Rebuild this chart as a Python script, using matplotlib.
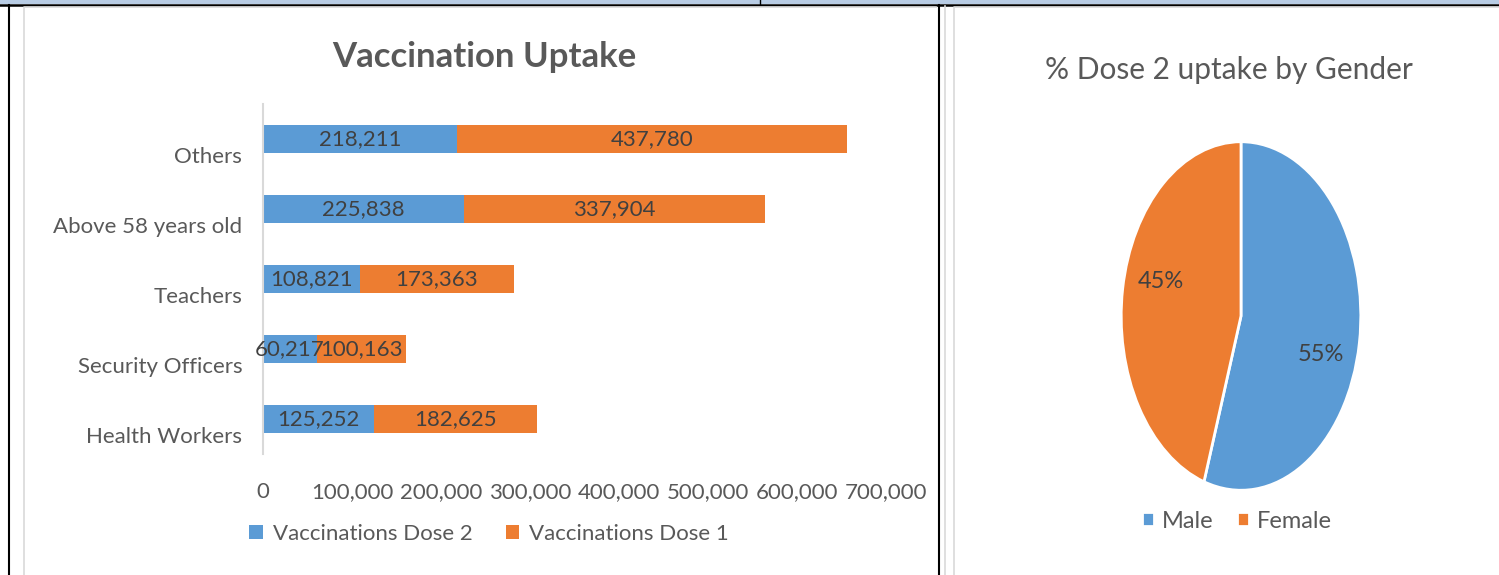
import matplotlib.pyplot as plt
from matplotlib.lines import Line2D
from matplotlib.patches import Rectangle

# data
groups = ["Health Workers", "Security Officers", "Teachers", "Above 58 years old", "Others"]
dose2 = [125252, 60217, 108821, 225838, 218211]
dose1 = [182625, 100163, 173363, 337904, 437780]
x_ticks = [0, 100000, 200000, 300000, 400000, 500000, 600000, 700000]

genders = ["Male", "Female"]
gender_pct = [55, 45]

BLUE = "#5B9BD5"
ORANGE = "#ED7D31"
GREY = "#595959"
DARK = "#404040"
FRAME = "#D9D9D9"

plt.rcParams["font.family"] = ["Lato", "DejaVu Sans"]

W, H = 1499, 575
fig = plt.figure(figsize=(W / 100, H / 100), dpi=100)


def fx(x):
    return x / W


def fy(y):
    return 1 - y / H


def box(x0, y0, x1, y1):
    # axes rect from pixel corners (top-left origin)
    return [fx(x0), fy(y1), fx(x1) - fx(x0), fy(y0) - fy(y1)]


# --- document table decoration ---
fig.add_artist(Rectangle((0, fy(4)), 1, 4 / H, transform=fig.transFigure,
                         color="#B8CCE4", lw=0))
fig.add_artist(Line2D([0, 1], [fy(5), fy(5)], color="black", lw=1.8))
fig.add_artist(Line2D([fx(760), fx(760)], [fy(0), fy(5)], color="black", lw=1))
fig.add_artist(Line2D([fx(8.5), fx(8.5)], [0, fy(5)], color="black", lw=1.5))
fig.add_artist(Line2D([fx(938.5), fx(938.5)], [0, fy(5)], color="black", lw=1.5))
fig.add_artist(Line2D([fx(945), fx(945)], [0, fy(6)], color=FRAME, lw=1.2))
# chart frames
fig.add_artist(Line2D([fx(24), fx(24), fx(936)], [0, fy(7), fy(7)], color=FRAME, lw=1.2))
fig.add_artist(Line2D([fx(954), fx(954), 1], [0, fy(7), fy(7)], color=FRAME, lw=1.2))

# --- bar chart ---
ax = fig.add_axes(box(263, 104, 886, 454))
y = list(range(len(groups)))
ax.barh(y, dose2, height=0.4, color=BLUE, label="Vaccinations Dose 2")
ax.barh(y, dose1, left=dose2, height=0.4, color=ORANGE, label="Vaccinations Dose 1")
for i in y:
    ax.text(dose2[i] / 2, i, f"{dose2[i]:,}", ha="center", va="center",
            fontsize=16, color=DARK)
    ax.text(dose2[i] + dose1[i] / 2, i, f"{dose1[i]:,}", ha="center", va="center",
            fontsize=16, color=DARK)
ax.set_xlim(0, 700000)
ax.set_ylim(-0.5, len(groups) - 0.5)
# category labels sit a little below their bars, as in the original
ax.set_yticks([i - 0.23 for i in y])
ax.set_yticklabels(groups)
ax.set_xticks(x_ticks)
ax.set_xticklabels([f"{v:,}" for v in x_ticks])
ax.tick_params(length=0, labelsize=16, labelcolor=GREY)
ax.tick_params(axis="x", pad=20)
ax.tick_params(axis="y", pad=15)
for s in ["top", "right", "bottom"]:
    ax.spines[s].set_visible(False)
ax.spines["left"].set_color(FRAME)
ax.spines["left"].set_linewidth(1.5)
fig.text(fx(484), fy(57), "Vaccination Uptake", ha="center", va="center",
         fontsize=25, fontweight="bold", color=GREY)
ax.legend(loc="center", bbox_to_anchor=(fx(489), fy(534)),
          bbox_transform=fig.transFigure, ncol=2, frameon=False,
          fontsize=16, labelcolor=GREY, handlelength=0.6, handleheight=0.6,
          handletextpad=0.45, columnspacing=1.5)

# --- pie chart ---
pax = fig.add_axes(box(1120, 140, 1362, 492))
wedges, _, autotexts = pax.pie(gender_pct, colors=[BLUE, ORANGE], startangle=90,
                               counterclock=False, autopct="%d%%", pctdistance=0.7,
                               wedgeprops=dict(edgecolor="white", linewidth=2),
                               textprops=dict(fontsize=17, color=DARK))
pax.set_aspect("auto")
pax.set_xlim(-1.01, 1.01)
pax.set_ylim(-1.01, 1.01)
autotexts[0].set_position((0.67, -0.22))
autotexts[1].set_position((-0.67, 0.2))
fig.text(fx(1229), fy(70), "% Dose 2 uptake by Gender", ha="center", va="center",
         fontsize=21.5, color=GREY)
pax.legend(wedges, genders, loc="center", bbox_to_anchor=(fx(1237), fy(521)),
           bbox_transform=fig.transFigure, ncol=2, frameon=False,
           fontsize=17, labelcolor=GREY, handlelength=0.5, handleheight=0.5,
           handletextpad=0.35, columnspacing=1.0)

fig.savefig("out.png", dpi=100)
